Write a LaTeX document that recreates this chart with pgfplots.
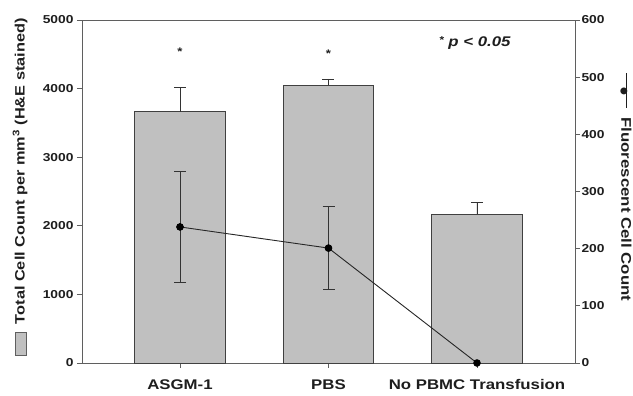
\documentclass[border=0pt]{standalone}
\usepackage{pgfplots}
\pgfplotsset{compat=1.18}
\usepackage{fontspec}
\setmainfont[FakeStretch=1.2]{Liberation Sans}
\newfontfamily\dejavu{DejaVu Sans}
\definecolor{barfill}{RGB}{192,192,192}
\definecolor{axgray}{RGB}{95,95,95}
\definecolor{txt}{RGB}{30,30,30}
\begin{document}
\begin{tikzpicture}
\begin{axis}[
  scale only axis, width=493pt, height=343pt,
  xmin=-0.66, xmax=2.66, ymin=0, ymax=5000,
  xtick={0,1,2}, xticklabels={ASGM-1, PBS, No PBMC Transfusion},
  ytick={0,1000,...,5000},
  tick align=outside, xtick pos=bottom, ytick pos=left,
  major tick length=5pt,
  axis line style={axgray, line width=0.9pt},
  tick style={axgray, line width=0.9pt},
  scaled y ticks=false,
  /pgf/number format/assume math mode=true,
  /pgf/number format/1000 sep={},
  yticklabel style={font=\fontsize{11.5}{13}\selectfont\bfseries, text=txt},
  xticklabel style={font=\fontsize{14}{16}\selectfont\bfseries, text=txt, yshift=-10.5pt, inner sep=1pt},
  ylabel={{\setlength\fboxsep{0pt}\setlength\fboxrule{0.8pt}\raisebox{-1pt}{\fcolorbox{axgray}{barfill}{\rule{0pt}{10pt}\rule{22pt}{0pt}}}}\hspace{8pt}Total Cell Count per mm\textsuperscript{3} (H\&E stained)},
  ylabel style={at={(axis description cs:-0.1258,0.513)}, anchor=center, font=\fontsize{13.6}{15}\selectfont\bfseries, text=txt},
  clip=false,
]
\addplot[ybar, bar width=0.61, fill=barfill, draw=black!75, line width=0.9pt,
  error bars/.cd, y dir=plus, y explicit, error mark=-,
  error bar style={black!80, line width=0.9pt},
  error mark options={black!80, mark size=6pt, line width=0.9pt, rotate=90}]
  coordinates {(0,3663) +- (0,356) (1,4052) +- (0,88) (2,2167) +- (0,176)};
\node[font=\fontsize{11}{12}\selectfont\bfseries, text=txt] at (axis cs:0,4540) {*};
\node[font=\fontsize{11}{12}\selectfont\bfseries, text=txt] at (axis cs:1,4515) {*};
\node[font=\fontsize{14}{16}\selectfont\bfseries\itshape, text=txt] at (axis cs:1.985,4665) {\raisebox{3pt}{\fontsize{10}{11}\selectfont *} p < 0.05};
\coordinate (bl) at (rel axis cs:0,0);
\end{axis}
\begin{axis}[
  scale only axis, width=493pt, height=343pt,
  xmin=-0.66, xmax=2.66, ymin=0, ymax=600,
  axis x line=none, axis y line*=right,
  ytick={0,100,...,600},
  tick align=outside,
  major tick length=5pt,
  axis line style={axgray, line width=0.9pt},
  tick style={axgray, line width=0.9pt},
  /pgf/number format/assume math mode=true,
  yticklabel style={font=\fontsize{11.5}{13}\selectfont\bfseries, text=txt, xshift=-2pt},
  ylabel={\rlap{\raisebox{0.33em}{\rule{35pt}{0.9pt}}}\makebox[35pt]{\raisebox{0.02em}{\dejavu\fontsize{9}{9}\selectfont ●}}\hspace{9pt}Fluorescent Cell Count},
  ylabel style={at={(axis description cs:1.1035,0.512)}, anchor=center, rotate=180, font=\fontsize{14}{16}\selectfont\bfseries, text=txt},
  clip=false,
]
\addplot[black!85, line width=0.9pt, mark=*, mark size=3.3pt, mark options={black}]
  coordinates {(0,238) (1,201) (2,0)};
\addplot[black!85, only marks, mark=*, mark size=3.3pt, mark options={black},
  error bars/.cd, y dir=both, y explicit, error mark=-,
  error bar style={black!80, line width=0.9pt},
  error mark options={black!80, mark size=6pt, line width=0.9pt, rotate=90}]
  coordinates {(0,238) +- (0,97) (1,201) +- (0,73)};
\end{axis}
\pgfresetboundingbox
\path[use as bounding box] ([shift={(-82pt,-33pt)}]bl) rectangle ([shift={(551pt,363pt)}]bl);
\end{tikzpicture}
\end{document}
